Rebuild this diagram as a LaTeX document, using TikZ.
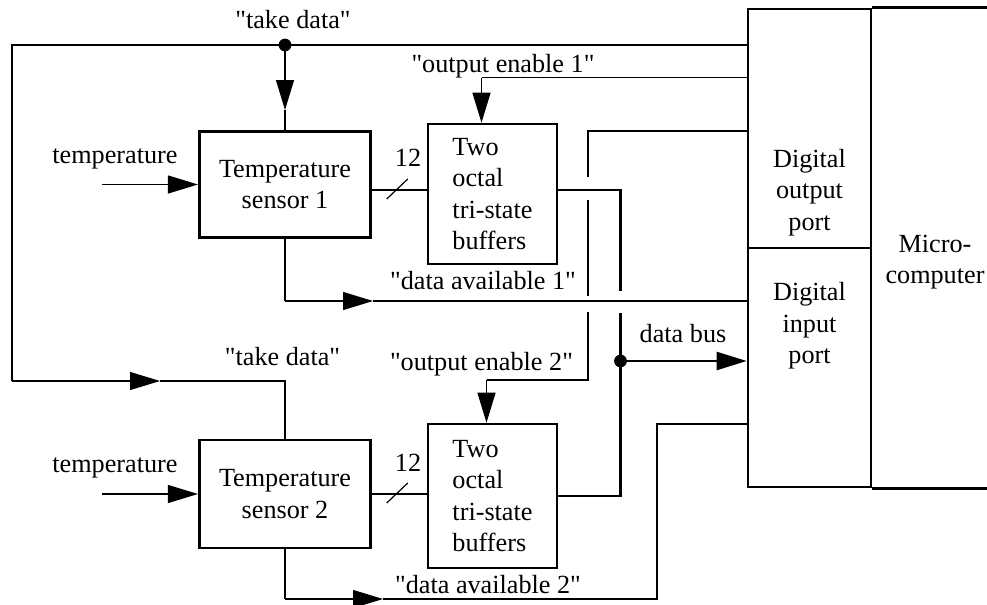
\documentclass[tikz,border=0pt]{standalone}
\usepackage{fontspec}
\setmainfont{Liberation Serif}[Ligatures=TeXOff]
\usetikzlibrary{arrows.meta,positioning,calc}

\tikzset{
  txt/.style={font=\fontsize{13.1pt}{15.75pt}\selectfont},
  blk/.style={draw,line width=1.3pt,inner sep=0pt,align=center},
  sig/.style={line width=0.6pt},
  bus/.style={line width=1.1pt},
  arr/.style={-{Triangle[length=15pt,width=9pt]}},
}

\begin{document}
\begin{tikzpicture}[x=0.5pt,y=-0.5pt,every node/.style={txt}]
        \useasboundingbox (0,0) rectangle (987,605);

        % blocks
        \node[blk,minimum width=85.75pt,minimum height=53pt] (s1) at (285,184.5) {Temperature\\sensor 1};
        \node[blk,minimum width=85.75pt,minimum height=54pt] (s2) at (285,494) {Temperature\\sensor 2};
        \node[blk,align=left,minimum width=64.5pt,minimum height=70pt] (b1) at (492.5,194) {Two\\octal\\tri-state\\buffers};
        \node[blk,align=left,minimum width=64.5pt,minimum height=72pt] (b2) at (492.5,496) {Two\\octal\\tri-state\\buffers};
        \node[blk,minimum width=61.5pt,minimum height=119.5pt] (outp) at (809.5,128.5) {};
        \node[blk,minimum width=61.5pt,minimum height=119.5pt] (inp) at (809.5,367.5) {};
        \node[align=center] (outtxt) at (809.5,192.4) {Digital\\output\\port};
        \node[align=center] (inptxt) at (809.5,325.9) {Digital\\input\\port};
        \node[align=center] (mctxt) at (935,262.2) {Micro-\\computer};

        \coordinate (rim) at (987,0);
        \draw[line width=1.3pt] (outp.north east) -- (outp.north east -| rim);
        \draw[line width=1.3pt] (inp.south east) -- (inp.south east -| rim);

        % corners
        \coordinate (tdot) at (285,45);
        \coordinate (tl) at (12,45);
        \coordinate (tl2) at (12,381);
        \coordinate (ta2) at (160,381);
        \coordinate (td2) at (285,381);
        \coordinate (ta1) at (285,110);
        \coordinate (oe1) at (481.5,77.5);
        \coordinate (en2) at (588,131);
        \coordinate (en2b) at (588,380);
        \coordinate (oe2) at (486.5,380);
        \coordinate (bus) at (620.5,190);
        \coordinate (busdot) at (620.5,361);
        \coordinate (dav1) at (285,301);
        \coordinate (da1) at (373,301);
        \coordinate (dav2) at (285,599);
        \coordinate (da2) at (383,599);
        \coordinate (dv2) at (657,599);
        \coordinate (dv2b) at (657,424);

        % take data
        \draw[sig] (outp.west |- tdot) -- (tl) -- (tl2);
        \draw[sig,arr] (tl2) -- (ta2);
        \draw[sig] (ta2) -- (td2) -- (s2.north);
        \draw[sig,arr] (tdot) -- (ta1);
        \draw[sig] (ta1) -- (s1.north);
        \fill (tdot) circle (3.2pt);

        % output enable
        \draw[sig] (outp.west |- oe1) -- (oe1);
        \draw[sig,arr] (oe1) -- (oe1 |- b1.north);
        \draw[sig] (outp.west |- en2) -- (en2) -- ($(en2 |- bus)+(0,-13)$);
        \draw[sig] ($(en2 |- bus)+(0,10)$) -- ($(en2 |- dav1)+(0,-5)$);
        \draw[sig] ($(en2 |- dav1)+(0,11)$) -- (en2b) -- (oe2);
        \draw[sig,arr] (oe2) -- (oe2 |- b2.north);

        % temperature inputs
        \foreach \s in {s1,s2}{
                \draw[sig,arr] ($(\s.west)+(-96,0)$) -- (\s.west);
                \node[anchor=base] at ($(\s.west)+(-83,-21.5)$) {temperature};
        }

        % 12 bit lines
        \draw[bus] (s1.east |- bus) -- (b1.west |- bus);
        \draw[sig] ($(s1.east |- bus)+(14.7,9)$) -- ++(21,-20);
        \node[anchor=base] (n12a) at (408,166.7) {12};
        \draw[bus] (s2.east) -- (b2.west |- s2.east);
        \draw[sig] ($(s2.east)+(14.7,9)$) -- ++(21,-20);
        \node[anchor=base] (n12b) at (408,471.7) {12};

        % data bus
        \draw[bus] (b1.east |- bus) -- (bus) -- ($(bus |- dav1)+(0,-10)$);
        \draw[bus] ($(bus |- dav1)+(0,12)$) -- (bus |- b2.east) -- (b2.east);
        \draw[bus,arr] (busdot) -- (inp.west |- busdot);
        \fill (busdot) circle (3.2pt);

        % data available
        \draw[sig] (s1.south) -- (dav1);
        \draw[sig,arr] (dav1) -- (da1);
        \draw[sig] (da1) -- (inp.west |- dav1);
        \draw[sig] (s2.south) -- (dav2);
        \draw[sig,arr] (dav2) -- (da2);
        \draw[sig] (da2) -- (dv2) -- (dv2b) -- (inp.west |- dv2b);

        % labels
        \node[anchor=base] (lbtake1) at (293,28) {"take data"};
        \node[anchor=base] (lbtake2) at (282.5,365) {"take data"};
        \node[anchor=base] (lben1) at (503,72) {"output enable 1"};
        \node[anchor=base] (lben2) at (481.5,370) {"output enable 2"};
        \node[anchor=base] (lbav1) at (483,289) {"data available 1"};
        \node[anchor=base] (lbav2) at (488,593) {"data available 2"};
        \node[anchor=base] (lbbus) at (683,342.7) {data bus};

\end{tikzpicture}
\end{document}
